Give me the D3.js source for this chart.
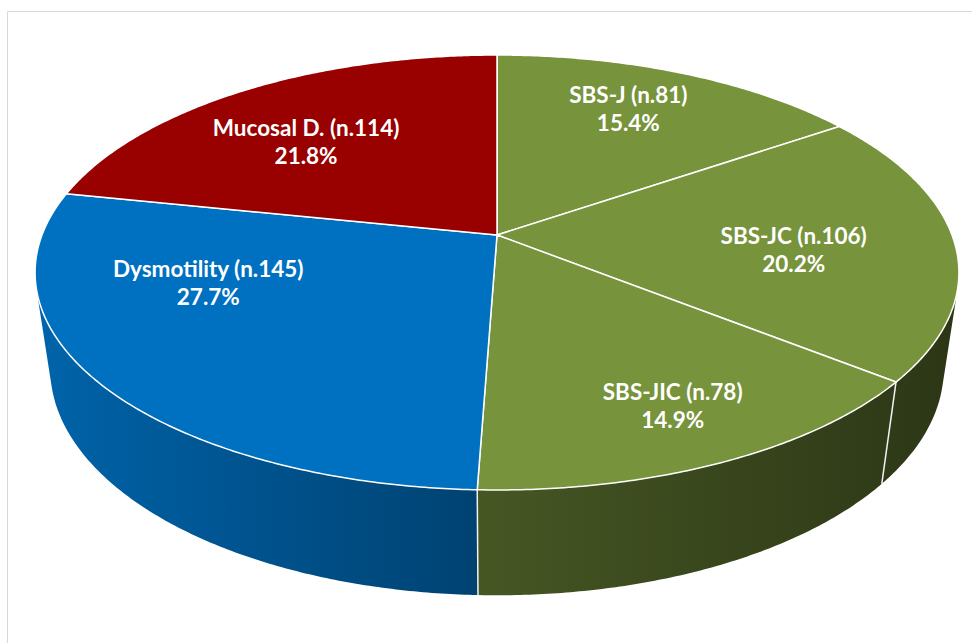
<!DOCTYPE html>
<html>
<head>
<meta charset="utf-8">
<script src="https://cdn.jsdelivr.net/npm/d3@7"></script>
<style>
  body { margin: 0; background: #fff; }
  svg { display: block; }
  .lbl { font-family: Lato, "Open Sans", sans-serif; font-weight: bold; font-size: 22.5px; fill: #fff; }
</style>
</head>
<body>
<svg id="chart" width="972" height="643"></svg>
<script>
// chart data, clockwise from 12 o'clock
var categories = ['SBS-J', 'SBS-JC', 'SBS-JIC', 'Dysmotility', 'Mucosal D.'];
var counts = [81, 106, 78, 145, 114];
var percents = ['15.4%', '20.2%', '14.9%', '27.7%', '21.8%'];
var colors = ['#77933c', '#77933c', '#77933c', '#0070c0', '#990000'];

// label nudges (px) from the projected mid-angle point
var labelShift = [[-3, -7], [-23, 10], [26, 21], [-18, -50], [-7, 12]];

var svg = d3.select('#chart');
var defs = svg.append('defs');

// frame
svg.append('path')
    .attr('d', 'M7.5,643V11.5H972')
    .attr('fill', 'none')
    .attr('stroke', '#d9d9d9')
    .attr('stroke-width', 1);

// perspective camera for the tilted disc (w = 0 top face, w = 1 bottom)
var cam = { cx: 497, cy: 235, a: 455, d: 170.5, g: -0.1724, k: 0.033, m: 106.8 };

function proj(t, r, w) {
    var u = r * Math.sin(t), v = -r * Math.cos(t);
    var D = 1 + cam.g * v + cam.k * w;
    return [cam.cx + cam.a * u / D, (cam.d * v + cam.cy + cam.m * w) / D];
}

function area(pts) {
    var s = 0;
    for (var i = 0; i < pts.length; i++) {
        var p = pts[i], q = pts[(i + 1) % pts.length];
        s += p[0] * q[1] - q[0] * p[1];
    }
    return s / 2;
}

var pie = d3.pie().sort(null).value(function (d) { return d; });
var arcs = pie(counts);

// wall lighting falls off from left to right
var shade = d3.scaleLinear().domain([-1, 0, 1]).range([0.88, 0.58, 0.37]);
var line = d3.line();
var step = Math.PI / 360;

var x0 = proj(-Math.PI / 2, 1, 0)[0], x1 = proj(Math.PI / 2, 1, 0)[0];
var gradId = {};
colors.forEach(function (c) {
    if (gradId[c]) return;
    var id = 'wall' + Object.keys(gradId).length;
    gradId[c] = id;
    var base = d3.rgb(c);
    var g = defs.append('linearGradient')
        .attr('id', id)
        .attr('gradientUnits', 'userSpaceOnUse')
        .attr('x1', x0).attr('x2', x1).attr('y1', 0).attr('y2', 0);
    d3.range(0, 1.0001, 0.1).forEach(function (o) {
        var f = shade(o * 2 - 1);
        g.append('stop')
            .attr('offset', o)
            .attr('stop-color', d3.rgb(base.r * f, base.g * f, base.b * f).formatHex());
    });
});

function quad(t, t2) {
    return [proj(t, 1, 0), proj(t2, 1, 0), proj(t2, 1, 1), proj(t, 1, 1)];
}
var frontSign = Math.sign(area(quad(Math.PI, Math.PI + step)));

// outer walls: one path per slice made of the camera-facing strips
var walls = svg.append('g');
arcs.forEach(function (a, i) {
    var d = '';
    for (var t = a.startAngle; t < a.endAngle; t += step) {
        var q = quad(t, Math.min(t + step, a.endAngle));
        if (Math.sign(area(q)) === frontSign) d += line(q) + 'Z';
    }
    if (!d) return;
    walls.append('path')
        .attr('d', d)
        .attr('fill', 'url(#' + gradId[colors[i]] + ')');
});

// seams on the wall
arcs.forEach(function (a) {
    var t = a.startAngle;
    if (Math.sign(area(quad(t, t + step))) === frontSign &&
        Math.sign(area(quad(t - step, t))) === frontSign) {
        walls.append('path')
            .attr('d', line([proj(t, 1, 0), proj(t, 1, 1)]))
            .attr('stroke', '#f2f2f2')
            .attr('stroke-width', 1.5);
    }
});

// top faces
svg.append('g').selectAll('path')
    .data(arcs)
    .enter().append('path')
    .attr('d', function (a) {
        var pts = [proj(0, 0, 0)];
        for (var t = a.startAngle; t < a.endAngle; t += step) pts.push(proj(t, 1, 0));
        pts.push(proj(a.endAngle, 1, 0));
        return line(pts) + 'Z';
    })
    .attr('fill', function (a, i) { return colors[i]; })
    .attr('stroke', '#fff')
    .attr('stroke-width', 1.5)
    .attr('stroke-linejoin', 'round');

// labels
var labels = svg.append('g').selectAll('text')
    .data(arcs)
    .enter().append('text')
    .attr('class', 'lbl')
    .attr('text-anchor', 'middle')
    .attr('transform', function (a, i) {
        var p = proj((a.startAngle + a.endAngle) / 2, 0.7, 0);
        return 'translate(' + (p[0] + labelShift[i][0]) + ',' + (p[1] + labelShift[i][1]) + ')';
    });

labels.append('tspan')
    .attr('x', 0).attr('y', -6.5)
    .text(function (a, i) { return categories[i] + ' (n.' + counts[i] + ')'; });
labels.append('tspan')
    .attr('x', 0).attr('y', 21.5)
    .text(function (a, i) { return percents[i]; });
</script>
</body>
</html>
